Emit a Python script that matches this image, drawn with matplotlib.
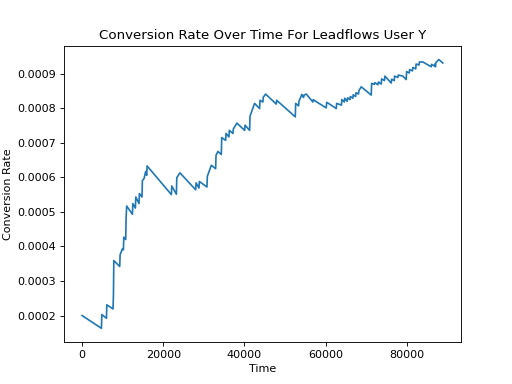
import matplotlib
matplotlib.use('Agg')
import matplotlib.pyplot as plt

# time values
time = [0, 4780, 4880, 6010, 6110, 7630, 7730, 7830, 9280, 9380,
        9940, 10190, 10290, 10760, 10860, 11000, 12410, 12510, 13140, 13240,
        14030, 14130, 14770, 14870, 15260, 15680, 15930, 16030, 22010, 22110,
        23240, 23340, 24120, 27990, 28090, 28800, 28900, 30770, 30870, 31850,
        32910, 33010, 33480, 34310, 34410, 35370, 35470, 36180, 36280, 37170,
        37270, 38150, 40050, 40150, 41280, 41380, 42510, 43740, 43840, 44550,
        44650, 45220, 47850, 47950, 52530, 52630, 53340, 53440, 54150, 54570,
        54670, 55240, 56860, 56960, 57280, 60160, 60260, 60970, 62620, 62720,
        63900, 64000, 64600, 64700, 65300, 65400, 66000, 66100, 66700, 66800,
        67400, 67500, 68100, 68200, 68780, 71240, 71340, 72000, 72100, 72900,
        73000, 73700, 73800, 74500, 74600, 76160, 76260, 76900, 77000, 77800,
        77900, 79010, 79850, 79950, 80600, 80700, 81400, 81500, 82200, 82300,
        83000, 83100, 83940, 86010, 86110, 86820, 86920, 87060, 87160, 87880,
        88860]

# conversion rate at each time
rate = [0.000200, 0.000163, 0.000203, 0.000192, 0.000231, 0.000219, 0.000255, 0.000359, 0.000342, 0.000376,
        0.000393, 0.000390, 0.000427, 0.000420, 0.000485, 0.000517, 0.000493, 0.000524, 0.000511, 0.000543,
        0.000524, 0.000553, 0.000543, 0.000591, 0.000596, 0.000617, 0.000606, 0.000633, 0.000550, 0.000575,
        0.000551, 0.000599, 0.000613, 0.000564, 0.000584, 0.000569, 0.000588, 0.000572, 0.000603, 0.000635,
        0.000625, 0.000664, 0.000675, 0.000666, 0.000715, 0.000707, 0.000727, 0.000717, 0.000736, 0.000727,
        0.000740, 0.000757, 0.000736, 0.000751, 0.000736, 0.000777, 0.000814, 0.000799, 0.000823, 0.000818,
        0.000832, 0.000841, 0.000812, 0.000823, 0.000775, 0.000814, 0.000807, 0.000820, 0.000840, 0.000831,
        0.000838, 0.000841, 0.000818, 0.000825, 0.000822, 0.000801, 0.000817, 0.000812, 0.000799, 0.000814,
        0.000809, 0.000825, 0.000818, 0.000829, 0.000820, 0.000830, 0.000825, 0.000834, 0.000829, 0.000839,
        0.000834, 0.000845, 0.000841, 0.000851, 0.000862, 0.000838, 0.000872, 0.000869, 0.000874, 0.000868,
        0.000876, 0.000870, 0.000885, 0.000880, 0.000893, 0.000873, 0.000884, 0.000880, 0.000893, 0.000889,
        0.000896, 0.000893, 0.000883, 0.000906, 0.000902, 0.000912, 0.000908, 0.000918, 0.000914, 0.000928,
        0.000925, 0.000934, 0.000934, 0.000920, 0.000927, 0.000922, 0.000928, 0.000920, 0.000932, 0.000941,
        0.000931]

plt.figure(figsize=(6.4, 4.8), dpi=80)
plt.plot(time, rate)
plt.title("Conversion Rate Over Time For Leadflows User Y")
plt.xlabel("Time")
plt.ylabel("Conversion Rate")
plt.savefig("out.png")
